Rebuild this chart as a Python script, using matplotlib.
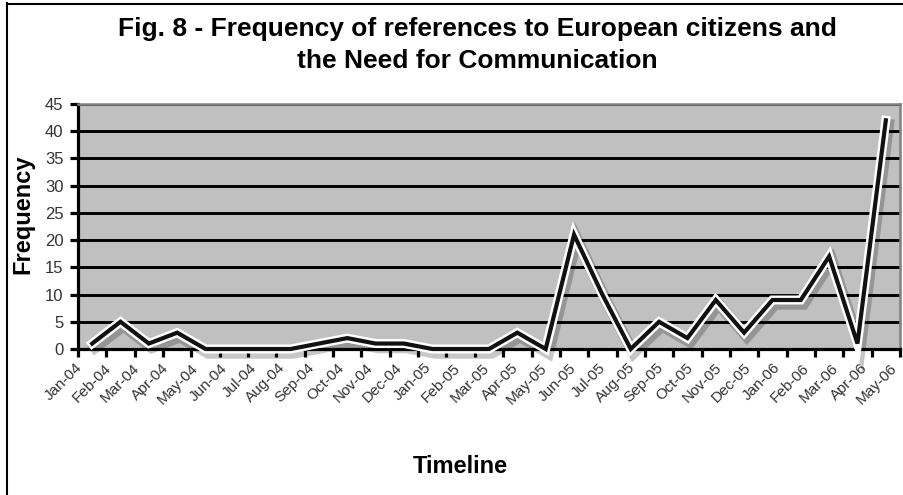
import matplotlib
matplotlib.use("Agg")
import matplotlib.pyplot as plt
import matplotlib.patheffects as pe
from matplotlib.lines import Line2D
import numpy as np

months = ["Jan-04", "Feb-04", "Mar-04", "Apr-04", "May-04", "Jun-04", "Jul-04",
          "Aug-04", "Sep-04", "Oct-04", "Nov-04", "Dec-04", "Jan-05", "Feb-05",
          "Mar-05", "Apr-05", "May-05", "Jun-05", "Jul-05", "Aug-05", "Sep-05",
          "Oct-05", "Nov-05", "Dec-05", "Jan-06", "Feb-06", "Mar-06", "Apr-06",
          "May-06"]
frequency = [1, 5, 1, 3, 0, 0, 0, 0, 1, 2, 1, 1, 0, 0, 0, 3, 0, 21, 10, 0, 5,
             2, 9, 3, 9, 9, 17, 1, 42]
y_ticks = [0, 5, 10, 15, 20, 25, 30, 35, 40, 45]

plt.rcParams['font.family'] = ['Liberation Sans', 'DejaVu Sans']

W, H = 904, 495
fig = plt.figure(figsize=(W / 100, H / 100), dpi=100)
fig.patch.set_facecolor('white')

def fx(px):
    return px / W

def fy(py):
    return 1 - py / H

ax = fig.add_axes([fx(78), fy(349), fx(900) - fx(78), fy(104) - fy(349)])
ax.set_facecolor('#C0C0C0')

n = len(months)
x = np.arange(n)
ax.set_xlim(-0.5, n - 0.5)
ax.set_ylim(0, 45)

# gridlines
ax.set_yticks(y_ticks)
ax.set_yticklabels([str(v) for v in y_ticks])
ax.yaxis.grid(True, color='black', linewidth=2.1)
ax.set_axisbelow(True)

# x ticks: marks at category boundaries; labels spread slightly wider
ax.set_xticks(np.arange(-0.5, n, 1.0), minor=True)
ax.set_xticks(np.linspace(-0.45, n - 0.7, n))
ax.set_xticklabels(months, rotation=45, ha='right', va='center',
                   rotation_mode='anchor', fontsize=11, color='#333333')
ax.tick_params(axis='x', which='major', length=0, pad=12)
ax.tick_params(axis='x', which='minor', length=6, width=2.3, color='black',
               direction='out')
ax.tick_params(axis='y', length=6, width=2.3, color='black', direction='out',
               labelsize=12, labelcolor='#333333', pad=4.5)

for s in ['left', 'bottom']:
    ax.spines[s].set_color('black')
    ax.spines[s].set_linewidth(2.3)
for s in ['top', 'right']:
    ax.spines[s].set_color('#808080')
    ax.spines[s].set_linewidth(1.8)

ax.plot(x, frequency, color='#111111', linewidth=3.0, zorder=5, clip_on=False,
        solid_joinstyle='miter',
        path_effects=[pe.SimpleLineShadow(offset=(2, -3), shadow_color='black',
                                          alpha=0.22, linewidth=8),
                      pe.Stroke(linewidth=6.5, foreground='white'),
                      pe.Normal()])

# texts
fig.text(fx(477), fy(36), "Fig. 8 - Frequency of references to European citizens and",
         ha='center', va='baseline', fontsize=19, fontweight='bold', color='black')
fig.text(fx(477), fy(68), "the Need for Communication",
         ha='center', va='baseline', fontsize=19, fontweight='bold', color='black')
fig.text(fx(23), fy(214), "Frequency", rotation=90, ha='center', va='center',
         fontsize=17, fontweight='bold', color='black')
fig.text(fx(460), fy(473), "Timeline", ha='center', va='baseline',
         fontsize=17, fontweight='bold', color='black')

# figure border (left and top visible)
fig.add_artist(Line2D([fx(7), fx(7)], [fy(3), 0], transform=fig.transFigure,
                      color='black', linewidth=1.5))
fig.add_artist(Line2D([fx(7), 1], [fy(3.5), fy(3.5)], transform=fig.transFigure,
                      color='black', linewidth=1.5))

fig.savefig("out.png", dpi=100)
